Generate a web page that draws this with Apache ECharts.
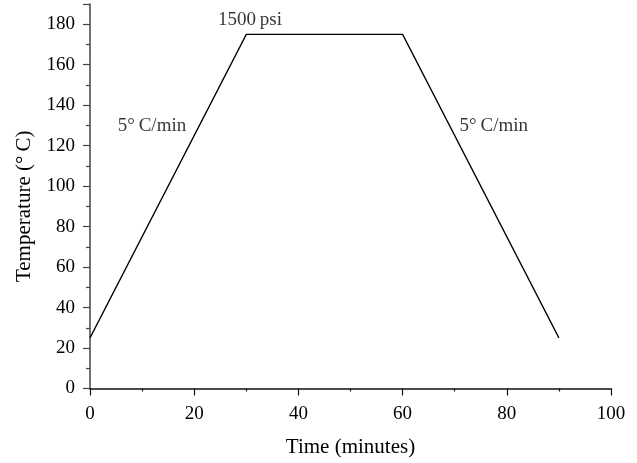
<!DOCTYPE html>
<html><head><meta charset="utf-8">
<script src="https://cdn.jsdelivr.net/npm/echarts@6/dist/echarts.min.js"></script>
<style>html,body{margin:0;padding:0;background:#fff}#c{width:637px;height:463px}</style>
</head><body><div id="c"></div>
<script>
const times = [0, 30, 60, 90];
const temps = [25, 175, 175, 25];
const annotations = [
  {text: '1500\u2009psi', x: 30.7, y: 182},
  {text: '5\u00b0\u2009C/min', x: 11.9, y: 129.5},
  {text: '5\u00b0\u2009C/min', x: 77.5, y: 129.5}
];
const FONT = '"Liberation Serif", "DejaVu Serif", serif';
const chart = echarts.init(document.getElementById('c'), null, {renderer: 'canvas'});
chart.setOption({
  animation: false,
  backgroundColor: '#fff',
  textStyle: {fontFamily: FONT},
  grid: {left: 90, right: 26, top: 4, bottom: 72, containLabel: false},
  xAxis: {
    type: 'value', min: 0, max: 100, interval: 20,
    name: 'Time (minutes)', nameLocation: 'middle', nameGap: 59,
    nameTextStyle: {fontFamily: FONT, fontSize: 21, color: '#000', verticalAlign: 'middle'},
    axisLine: {show: true, lineStyle: {color: '#111', width: 1.5}},
    axisTick: {show: true, length: 7, lineStyle: {color: '#111', width: 1.2}},
    minorTick: {show: true, splitNumber: 2, length: 3, lineStyle: {color: '#111', width: 1.2}},
    axisLabel: {fontFamily: FONT, fontSize: 19, color: '#000', margin: 16},
    splitLine: {show: false}
  },
  yAxis: {
    type: 'value', min: 0, max: 190, interval: 20,
    name: 'Temperature (\u00b0\u2009C)', nameLocation: 'middle', nameGap: 66,
    nameTextStyle: {fontFamily: FONT, fontSize: 21, color: '#000', verticalAlign: 'middle', padding: [0, 20, 0, 0]},
    axisLine: {show: true, lineStyle: {color: '#444', width: 1.5}},
    axisTick: {show: true, length: 7, lineStyle: {color: '#444', width: 1.2}},
    minorTick: {show: true, splitNumber: 2, length: 4, lineStyle: {color: '#444', width: 1.2}},
    axisLabel: {fontFamily: FONT, fontSize: 19, color: '#000', margin: 15,
      formatter: v => (v % 20 === 0 ? String(v) : '')},
    splitLine: {show: false}
  },
  series: [{
    type: 'line',
    data: times.map((t, i) => [t, temps[i]]),
    symbol: 'none',
    lineStyle: {color: '#000', width: 1.3},
    silent: true
  }, {
    type: 'scatter',
    symbolSize: 0,
    data: annotations.map(a => ({value: [a.x, a.y], name: a.text})),
    label: {show: true, position: 'inside', formatter: p => p.name,
      fontFamily: FONT, fontSize: 19, color: '#000'},
    silent: true
  }]
});
</script></body></html>
